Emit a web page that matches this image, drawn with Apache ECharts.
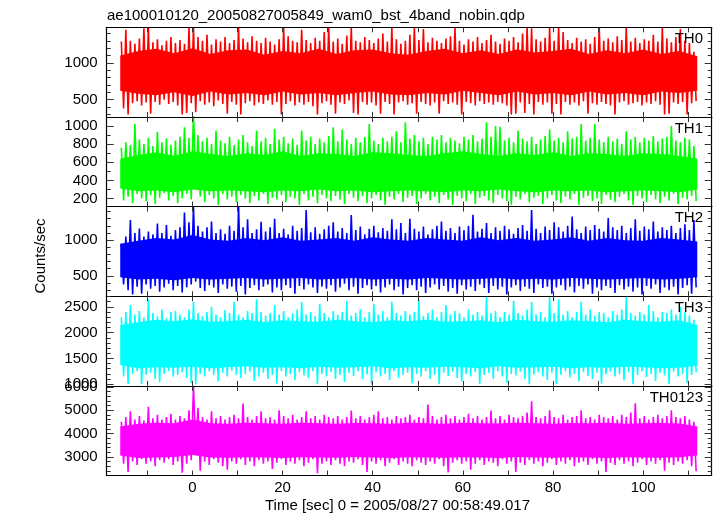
<!DOCTYPE html>
<html><head><meta charset="utf-8">
<script src="https://cdn.jsdelivr.net/npm/echarts@6/dist/echarts.min.js"></script>
<style>html,body{margin:0;padding:0;background:#fff}#c{width:717px;height:516px}</style>
</head><body><div id="c"></div><script>
// time bins (seconds, relative to 2005/08/27 00:58:49.017)
const binStart = -16, binWidth = 1;
const coreStart = -16, coreStep = 4;
const panelNames = ['TH0', 'TH1', 'TH2', 'TH3', 'TH0123'];
// per-bin maxima / minima of Counts/sec
const th0Hi = [1290,1450,1300,1260,1330,1470,1480,1280,1320,1240,1300,1350,1270,1310,1260,1483,
  1483,1350,1300,1380,1250,1320,1290,1350,1270,1310,1483,1330,1280,1360,1300,1270,
  1340,1290,1250,1320,1483,1360,1300,1280,1450,1310,1270,1340,1300,1420,1483,1290,
  1330,1260,1370,1483,1300,1280,1350,1310,1270,1330,1400,1290,1483,1320,1260,1300,
  1380,1483,1310,1460,1280,1340,1300,1270,1330,1360,1483,1300,1250,1320,1290,1350,
  1270,1310,1380,1290,1260,1330,1300,1350,1280,1400,1483,1470,1320,1290,1340,1483,
  1300,1483,1420,1310,1270,1340,1290,1320,1260,1350,1483,1300,1330,1280,1360,1310,
  1483,1290,1340,1270,1320,1300,1380,1290,1483,1330,1280,1350,1460,1300,1270,1150];
const th0Lo = [380,300,450,480,420,460,310,470,430,500,440,470,420,300,320,450,
  330,480,430,460,410,490,440,310,470,430,300,450,480,420,460,440,
  490,430,470,300,440,480,420,460,430,470,410,300,450,480,430,310,
  460,440,490,320,300,470,430,460,420,310,470,440,300,460,480,430,
  450,310,470,440,420,460,310,480,440,460,430,300,470,450,420,480,
  440,460,430,470,450,420,300,310,460,320,440,300,470,430,460,310,
  440,300,470,430,460,420,480,310,450,430,470,440,420,300,460,480,
  430,450,470,420,460,440,480,430,300,310,460,440,470,300,450,480];
const th1Hi = [760,820,790,1020,850,800,870,780,935,820,860,790,840,880,985,870,
  1150,900,830,870,800,950,840,810,880,790,850,900,820,780,950,830,
  870,800,970,850,880,810,860,790,950,840,880,800,860,820,890,985,
  830,960,850,800,870,820,880,1020,840,800,870,830,880,940,820,1040,
  860,900,830,870,800,880,850,900,820,870,840,810,880,850,900,830,
  860,1040,880,1000,990,840,870,820,950,860,830,880,800,850,890,960,
  840,870,820,940,860,880,1020,840,870,1020,850,820,880,830,860,800,
  940,850,880,820,870,840,890,830,860,880,1000,840,820,870,850,780];
const th1Lo = [180,220,150,250,200,170,240,140,210,260,180,230,150,200,250,190,
  330,220,160,240,200,130,250,190,220,160,240,200,150,230,180,250,
  140,210,190,240,160,220,200,130,250,180,220,150,240,200,170,230,
  190,140,250,210,170,230,150,200,240,180,130,220,190,250,160,210,
  230,140,200,250,180,220,150,240,190,130,230,200,170,250,140,210,
  230,180,150,240,200,170,130,220,190,250,160,210,230,140,200,240,
  180,150,220,190,250,130,210,230,170,200,140,240,190,160,220,250,
  180,130,230,200,160,240,190,150,220,180,250,140,210,190,230,170];
const th2Hi = [950,1050,1280,1100,1163,1050,1120,1080,1233,1100,1210,1060,1140,1180,1387,1250,
  1469,1200,1120,1180,1260,1100,1150,1090,1200,1130,1469,1180,1290,1100,1150,1256,
  1120,1180,1300,1100,1160,1080,1200,1130,1170,1420,1110,1180,1090,1150,1200,1250,
  1120,1170,1100,1350,1140,1190,1080,1160,1200,1110,1170,1130,1290,1150,1240,1100,
  1300,1160,1120,1190,1080,1150,1200,1260,1130,1170,1100,1190,1140,1200,1353,1120,
  1160,1240,1100,1180,1130,1200,1150,1090,1170,1210,1130,1420,1160,1100,1190,1140,
  1250,1180,1120,1200,1330,1150,1100,1190,1140,1210,1160,1120,1310,1180,1140,1200,
  1100,1170,1290,1130,1190,1150,1260,1120,1180,1140,1200,1100,1170,1220,1140,1280];
const th2Lo = [380,300,240,350,250,380,320,360,280,340,390,300,360,270,340,380,
  420,330,290,370,340,260,380,320,350,280,360,240,330,370,300,350,
  380,270,340,300,370,330,250,360,310,380,340,260,350,320,370,280,
  340,390,300,350,250,330,370,310,360,270,340,380,300,350,240,330,
  370,300,350,260,340,380,310,360,280,330,250,370,310,350,290,380,
  330,260,360,310,350,240,340,370,290,350,320,260,380,330,350,250,
  340,370,300,350,270,360,320,380,250,340,300,360,330,260,370,310,
  350,280,340,240,360,320,380,260,340,300,350,240,330,370,250,340];
const th3Hi = [2300,2400,2535,2350,2420,2300,2650,2380,2320,2450,2280,2400,2420,2350,2300,2450,
  2600,2380,2320,2400,2500,2350,2300,2440,2380,2600,2350,2300,2420,2380,2650,2400,
  2330,2380,2535,2350,2420,2300,2380,2450,2600,2350,2400,2320,2560,2380,2300,2420,
  2350,2400,2620,2330,2380,2450,2300,2400,2560,2350,2420,2300,2600,2380,2330,2420,
  2350,2400,2650,2320,2380,2450,2300,2400,2535,2350,2420,2380,2300,2450,2350,2400,
  2330,2690,2380,2420,2300,2400,2350,2620,2380,2330,2450,2600,2350,2400,2300,2690,
  2380,2650,2350,2420,2300,2400,2600,2350,2450,2330,2400,2380,2300,2420,2350,2450,
  2690,2380,2330,2400,2350,2535,2420,2300,2400,2380,2450,2350,2500,2400,2330,2250];
const th3Lo = [1150,1000,1200,1250,1000,1180,1220,1100,1040,1200,1250,1150,1180,1230,1120,1020,
  1000,1200,1150,1250,1180,1050,1220,1150,1260,1180,1120,1200,1240,1060,1150,1220,
  1100,1180,1010,1250,1150,1200,1080,1230,1170,1120,1250,1000,1200,1150,1230,1100,
  1180,1040,1220,1160,1250,1100,1190,1000,1230,1150,1200,1080,1250,1120,1180,1220,
  1020,1200,1150,1250,1100,1180,1000,1220,1160,1240,1120,1050,1200,1150,1230,1000,
  1180,1220,1100,1250,1150,1030,1200,1170,1240,1100,1000,1190,1230,1150,1080,1220,
  1000,1180,1250,1130,1200,1050,1230,1160,1100,1220,1010,1190,1240,1150,1200,1070,
  1230,1000,1180,1250,1140,1200,1060,1220,1170,1000,1240,1150,1200,1020,1180,1230];
const th0123Hi = [4500,4700,4950,4600,4750,4550,5140,4650,4800,4600,4700,4850,4600,4750,4650,5000,
  6043,5100,4700,4600,4950,4650,4750,4600,4700,4800,4650,5280,4700,4600,4750,4950,
  4650,4700,4600,5000,4750,4650,4800,4600,4700,4950,4650,4750,4600,4800,4700,4650,
  4750,4600,4700,4980,4650,4750,4600,4700,4800,4950,4650,4700,4600,4750,4650,4700,
  4800,4600,4700,4650,5240,4750,4600,4700,4800,4650,4750,4600,4700,4850,4650,4750,
  4600,4700,4980,4650,4750,4600,4800,4700,4650,4750,4900,5380,4700,4650,4750,5000,
  4700,4650,4800,4600,4700,4750,5000,4650,4700,4600,4800,4700,4650,4750,4600,4800,
  4700,4900,5300,4650,4750,4600,4700,4800,4650,4750,5000,4700,4650,4750,4600,4500];
const th0123Lo = [2700,2350,2800,2650,2900,2700,2800,2600,2850,2750,2900,2650,2800,2320,2700,2850,
  3300,2400,2800,2650,2900,2750,2600,2450,2800,2700,2900,2650,2800,2600,2850,2700,
  2800,2480,2750,2900,2650,2800,2700,2850,2600,2750,2900,2300,2700,2800,2650,2850,
  2700,2600,2800,2750,2900,2650,2350,2800,2700,2850,2600,2750,2900,2650,2800,2700,
  2600,2850,2750,2650,2800,2700,2900,2600,2330,2750,2850,2700,2800,2450,2700,2850,
  2650,2800,2750,2600,2900,2700,2800,2350,2750,2650,2850,2700,2800,2600,2750,2900,
  2650,2800,2700,2850,2600,2750,2800,2650,2900,2700,2800,2350,2750,2650,2850,2700,
  2800,2600,2750,2900,2650,2800,2700,2850,2400,2750,2650,2800,2700,2850,2600,2380];
// dense (saturated) band of each curve, sampled every 4 s from -16 to 112
const th0CoreTop = [1100,1160,1190,1130,1200,1120,1170,1180,1110,1160,1130,1190,1120,1170,1180,1130,1110,1160,1190,1130,1170,1120,1180,1140,1160,1190,1120,1170,1130,1180,1120,1160,1090];
const th0CoreBot = [620,580,560,600,550,610,570,590,560,610,570,590,560,590,610,570,560,590,570,620,590,560,610,570,590,560,610,570,590,560,610,590,620];
const th1CoreTop = [640,680,710,670,720,690,670,700,680,720,670,700,690,670,710,700,680,670,700,720,690,670,700,680,710,670,700,690,670,700,690,670,640];
const th1CoreBot = [310,280,290,270,300,280,290,280,270,290,280,300,280,290,270,280,290,280,270,290,280,300,280,270,290,280,290,270,280,290,280,270,300];
const th2CoreTop = [950,990,1030,1010,1070,1010,990,1030,1000,1040,990,1010,1030,990,1040,1010,990,1030,1010,990,1040,1000,1030,990,1010,1040,990,1030,1000,990,1030,1010,980];
const th2CoreBot = [480,450,460,440,470,450,460,470,450,460,470,450,460,470,450,460,450,470,460,450,460,470,450,460,450,470,460,450,460,470,450,460,480];
const th3CoreTop = [2150,2200,2250,2220,2260,2210,2220,2250,2200,2240,2220,2210,2250,2220,2200,2240,2220,2250,2210,2220,2240,2200,2250,2220,2210,2240,2220,2200,2250,2220,2210,2240,2150];
const th3CoreBot = [1370,1310,1330,1320,1340,1310,1330,1350,1320,1330,1310,1340,1320,1330,1350,1310,1330,1320,1340,1330,1310,1350,1320,1330,1340,1310,1330,1320,1340,1330,1310,1320,1360];
const th0123CoreTop = [4300,4420,4460,4440,4600,4440,4420,4460,4440,4420,4460,4440,4420,4450,4440,4420,4460,4440,4420,4460,4440,4430,4460,4440,4420,4450,4440,4460,4420,4440,4450,4430,4300];
const th0123CoreBot = [3050,2950,2970,2990,3080,2970,2960,2980,2970,2950,2980,2970,2960,2990,2970,2950,2980,2970,2960,2980,2970,2950,2990,2970,2960,2980,2970,2950,2980,2970,2960,2980,3050];

// axis tick values
const xTicks = [-10, 0, 10, 20, 30, 40, 50, 60, 70, 80, 90, 100, 110];
const xLabels = [0, 20, 40, 60, 80, 100];
const yMajor = [[500, 1000], [200, 400, 600, 800, 1000], [500, 1000], [1000, 1500, 2000, 2500], [3000, 4000, 5000, 6000]];
const yMinor = [
  [300, 400, 500, 600, 700, 800, 900, 1000, 1100, 1200, 1300, 1400],
  [200, 300, 400, 500, 600, 700, 800, 900, 1000],
  [300, 400, 500, 600, 700, 800, 900, 1000, 1100, 1200, 1300, 1400],
  [1000, 1100, 1200, 1300, 1400, 1500, 1600, 1700, 1800, 1900, 2000, 2100, 2200, 2300, 2400, 2500, 2600, 2700],
  [2400, 2600, 2800, 3000, 3200, 3400, 3600, 3800, 4000, 4200, 4400, 4600, 4800, 5000, 5200, 5400, 5600, 5800, 6000]];
const yRange = [[265, 1483], [112, 1099], [216, 1469], [967, 2707], [2197, 6043]];
const xRange = [-19, 115.2];

const hiSets = [th0Hi, th1Hi, th2Hi, th3Hi, th0123Hi];
const loSets = [th0Lo, th1Lo, th2Lo, th3Lo, th0123Lo];
const coreTopSets = [th0CoreTop, th1CoreTop, th2CoreTop, th3CoreTop, th0123CoreTop];
const coreBotSets = [th0CoreBot, th1CoreBot, th2CoreBot, th3CoreBot, th0123CoreBot];
const colors = ['#ff0000', '#00ff00', '#0000ff', '#00ffff', '#ff00ff'];
const FONT = '"Liberation Sans", Arial, Helvetica, sans-serif';
const plain = function (v) { return String(v); };

const TOP = 27.3, PH = 89.64, LEFT = 106.7, RIGHT = 5.3;
const grids = [], xAxes = [], yAxes = [], series = [], texts = [];
for (let g = 0; g < 5; g++) {
  grids.push({ left: LEFT, right: RIGHT, top: TOP + g * PH, height: PH, containLabel: false });
  ['bottom', 'top'].forEach(function (pos) {
    xAxes.push({
      gridIndex: g, type: 'value', min: xRange[0], max: xRange[1], position: pos,
      axisLine: { show: true, onZero: false, lineStyle: { color: '#000', width: 1.2 } },
      axisTick: { show: true, inside: true, length: 5, customValues: xTicks, lineStyle: { color: '#333', width: 1 } },
      axisLabel: { show: (g === 4 && pos === 'bottom'), customValues: xLabels, formatter: plain, margin: 5, fontSize: 15, color: '#000', fontFamily: FONT },
      splitLine: { show: false }, z: 5
    });
  });
  ['left', 'right'].forEach(function (pos) {
    yAxes.push({
      gridIndex: g, type: 'value', min: yRange[g][0], max: yRange[g][1], position: pos,
      axisLine: { show: true, onZero: false, lineStyle: { color: '#000', width: 1.2 } },
      axisTick: { show: true, inside: true, length: 7, customValues: yMajor[g], lineStyle: { color: '#333', width: 1 } },
      axisLabel: { show: pos === 'left', customValues: yMajor[g], formatter: plain, margin: 9, fontSize: 15, color: '#000', fontFamily: FONT },
      splitLine: { show: false }, z: 5
    });
    yAxes.push({
      gridIndex: g, type: 'value', min: yRange[g][0], max: yRange[g][1], position: pos,
      axisLine: { show: false, onZero: false },
      axisTick: { show: true, inside: true, length: 4, customValues: yMinor[g], lineStyle: { color: '#333', width: 1 } },
      axisLabel: { show: false },
      splitLine: { show: false }, z: 5
    });
  });
  // dense core band, drawn as one polygon through the axis scales
  const cTop = coreTopSets[g], cBot = coreBotSets[g];
  const coreRows = cTop.map(function (v, k) { return [coreStart + k * coreStep, v, cBot[k]]; });
  const color = colors[g];
  series.push({
    type: 'custom', xAxisIndex: 2 * g, yAxisIndex: 4 * g, data: coreRows, silent: true, z: 1, clip: true,
    encode: { x: 0, y: [1, 2] },
    renderItem: function (params, api) {
      if (params.dataIndex !== 0) return null;
      const poly = [];
      coreRows.forEach(function (r) { poly.push(api.coord([r[0], r[1]])); });
      for (let k = coreRows.length - 1; k >= 0; k--) poly.push(api.coord([coreRows[k][0], coreRows[k][2]]));
      return { type: 'polygon', shape: { points: poly }, style: { fill: color } };
    }
  });
  // per-bin extremes as a zig-zag trace
  const pts = [];
  const hi = hiSets[g], lo = loSets[g];
  for (let i = 0; i < hi.length; i++) {
    const t = binStart + i * binWidth;
    pts.push([t + 0.25 * binWidth, hi[i]]);
    pts.push([t + 0.75 * binWidth, lo[i]]);
  }
  series.push({
    type: 'line', xAxisIndex: 2 * g, yAxisIndex: 4 * g, data: pts, showSymbol: false, symbol: 'none',
    lineStyle: { color: color, width: 1.6, join: 'miter' }, clip: true, silent: true, z: 2
  });
  texts.push({ type: 'text', x: 703, y: TOP + g * PH + 11.5, z: 10,
    style: { text: panelNames[g], fill: '#000', font: '15px ' + FONT, textAlign: 'right', textVerticalAlign: 'middle' } });
}
texts.push({ type: 'text', x: 107, y: 15.5, style: { text: 'ae100010120_20050827005849_wam0_bst_4band_nobin.qdp', fill: '#000', font: '15px ' + FONT, textAlign: 'left', textVerticalAlign: 'middle' } });
texts.push({ type: 'text', x: 397.5, y: 506, style: { text: 'Time [sec] 0 = 2005/08/27 00:58:49.017', fill: '#000', font: '15px ' + FONT, textAlign: 'center', textVerticalAlign: 'middle' } });
texts.push({ type: 'text', x: 41, y: 256, rotation: Math.PI / 2, style: { text: 'Counts/sec', fill: '#000', font: '15px ' + FONT, textAlign: 'center', textVerticalAlign: 'middle' } });

const chart = echarts.init(document.getElementById('c'), null, { renderer: 'canvas' });
chart.setOption({
  animation: false, backgroundColor: '#fff',
  grid: grids, xAxis: xAxes, yAxis: yAxes, series: series,
  graphic: { elements: texts }
});
</script></body></html>
